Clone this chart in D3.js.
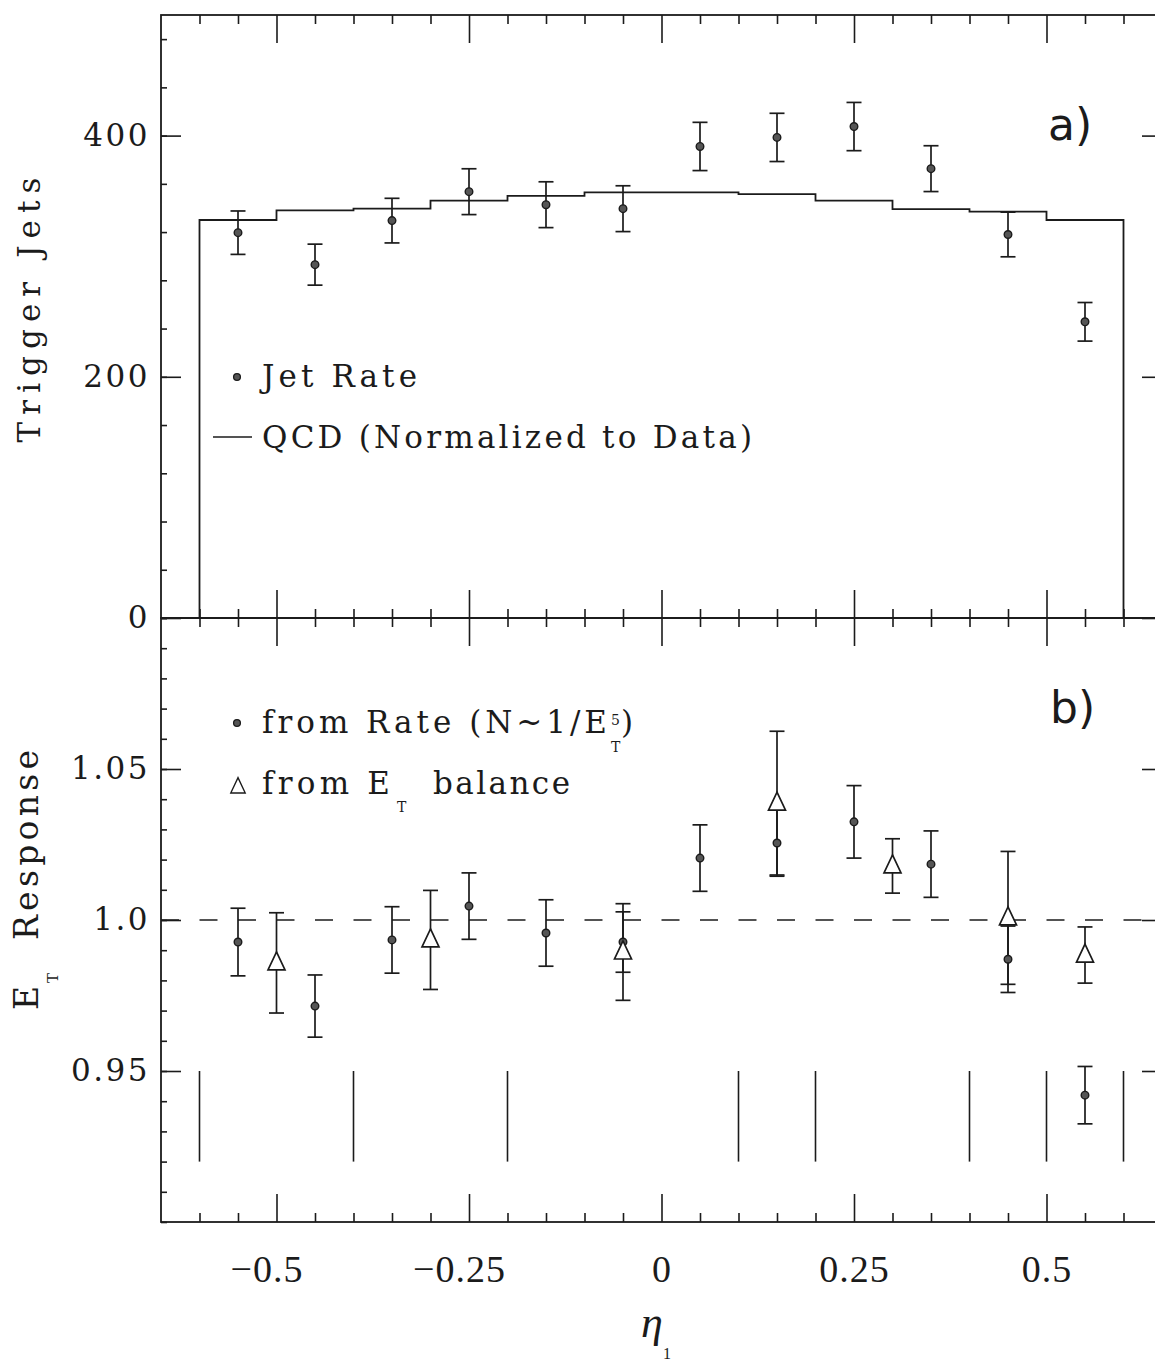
<!DOCTYPE html>
<html>
<head>
<meta charset="utf-8">
<script src="https://cdn.jsdelivr.net/npm/d3@7"></script>
<style>
  body { margin: 0; background: #fff; }
  svg { display: block; }
</style>
</head>
<body>
<div id="chart"></div>
<script>
// values
var etaCenters = [-0.55, -0.45, -0.35, -0.25, -0.15, -0.05, 0.05, 0.15, 0.25, 0.35, 0.45, 0.55];
var jetRate    = [319.5, 293, 329.5, 353.5, 342.7, 339.4, 391, 398.5, 407.5, 372.6, 318, 245.6];
var jetRateErr = [18, 17, 18.5, 19, 19, 19, 20, 20, 20, 19, 18.5, 16];

var qcdEdges  = [-0.6, -0.5, -0.4, -0.3, -0.2, -0.1, 0, 0.1, 0.2, 0.3, 0.4, 0.5, 0.6];
var qcdValues = [330, 338, 339.5, 346, 350, 353, 353, 351.5, 346, 339, 337, 330];

var rateResp = [0.9927, 0.9715, 0.9934, 1.0046, 0.9957, 0.9927, 1.0205, 1.0255, 1.0325, 1.0185, 0.987, 0.942];
var rateErr  = [0.0112, 0.0103, 0.011, 0.011, 0.011, 0.010, 0.011, 0.011, 0.012, 0.011, 0.011, 0.0095];

var balEta  = [-0.5, -0.3, -0.05, 0.15, 0.3, 0.45, 0.55];
var balResp = [0.9858, 0.9934, 0.9894, 1.0387, 1.0179, 1.0007, 0.9884];
var balErr  = [0.0166, 0.0164, 0.016, 0.0238, 0.009, 0.022, 0.0093];

var crackEta   = [-0.6, -0.4, -0.2, 0.1, 0.2, 0.4, 0.5, 0.6];
var crackRange = [0.92, 0.95];

var xMajor    = [-0.5, -0.25, 0, 0.25, 0.5];
var xLabels   = ["\u22120.5", "\u22120.25", "0", "0.25", "0.5"];
var topMajor  = [0, 200, 400];
var topLabels = ["0", "200", "400"];
var botMajor  = [0.95, 1.0, 1.05];
var botLabels = ["0.95", "1.0", "1.05"];

var width = 1155, height = 1366;
var ink = "#1b1b1b";
var slab = "'DejaVu Serif', 'Liberation Serif', serif";
var times = "'Liberation Serif', 'DejaVu Serif', serif";

var svg = d3.select("#chart")
  .append("svg")
  .attr("width", width)
  .attr("height", height);

var x = d3.scaleLinear().domain([-0.65, 0.65]).range([161, 1162]);
var yTop = d3.scaleLinear().domain([0, 500]).range([618, 15]);
var yBot = d3.scaleLinear().domain([0.9, 1.1]).range([1222, 618]);

var xMinor = d3.range(-0.6, 0.601, 0.05).filter(v => !xMajor.some(m => Math.abs(m - v) < 1e-6));
var topMinor = d3.range(0, 500, 40);
var botMinor = d3.range(0.9, 1.1001, 0.01);

function tickRow(g, axis, values, size, fmt, pad) {
  g.call(axis.tickValues(values).tickSizeInner(size).tickSizeOuter(0)
    .tickPadding(pad || 3).tickFormat(fmt || (() => "")));
  g.select(".domain").remove();
  g.selectAll(".tick line").attr("stroke", ink).attr("stroke-width", 1.6);
  g.attr("font-family", slab).attr("font-size", 31).attr("font-weight", 300);
  g.selectAll(".tick text").attr("fill", ink).attr("letter-spacing", 2.5);
  return g;
}

// frames
[[yTop, 500, 0], [yBot, 1.1, 0.9]].forEach(function (p) {
  svg.append("rect")
    .attr("x", x(-0.65))
    .attr("y", p[0](p[1]))
    .attr("width", x(0.65) - x(-0.65))
    .attr("height", p[0](p[2]) - p[0](p[1]))
    .attr("fill", "none")
    .attr("stroke", ink)
    .attr("stroke-width", 1.8);
});

// x ticks on both panels
tickRow(svg.append("g").attr("transform", "translate(0," + yTop(500) + ")"), d3.axisTop(x), xMajor, -28);
tickRow(svg.append("g").attr("transform", "translate(0," + yTop(500) + ")"), d3.axisTop(x), xMinor, -9);
tickRow(svg.append("g").attr("transform", "translate(0," + yTop(0) + ")"), d3.axisBottom(x), xMajor, -28);
tickRow(svg.append("g").attr("transform", "translate(0," + yTop(0) + ")"), d3.axisBottom(x), xMinor, -9);
tickRow(svg.append("g").attr("transform", "translate(0," + yBot(1.1) + ")"), d3.axisTop(x), xMajor, -28);
tickRow(svg.append("g").attr("transform", "translate(0," + yBot(1.1) + ")"), d3.axisTop(x), xMinor, -9);
var xAxisG = tickRow(svg.append("g").attr("transform", "translate(0," + yBot(0.9) + ")"),
  d3.axisBottom(x), xMajor, -28, (d, i) => xLabels[i], 33);
tickRow(svg.append("g").attr("transform", "translate(0," + yBot(0.9) + ")"), d3.axisBottom(x), xMinor, -9);
xAxisG.attr("font-family", times).attr("font-size", 38).attr("font-weight", null);
xAxisG.selectAll(".tick text").attr("letter-spacing", 1)
  .attr("dx", d => d < 0 ? -10 : 0);

// y ticks
tickRow(svg.append("g").attr("transform", "translate(" + x(-0.65) + ",0)"),
  d3.axisLeft(yTop), topMajor, -20, (d, i) => topLabels[i], 11);
tickRow(svg.append("g").attr("transform", "translate(" + x(-0.65) + ",0)"), d3.axisLeft(yTop), topMinor, -6);
tickRow(svg.append("g").attr("transform", "translate(" + x(0.65) + ",0)"), d3.axisRight(yTop), topMajor, -20);
tickRow(svg.append("g").attr("transform", "translate(" + x(0.65) + ",0)"), d3.axisRight(yTop), topMinor, -6);
tickRow(svg.append("g").attr("transform", "translate(" + x(-0.65) + ",0)"),
  d3.axisLeft(yBot), botMajor, -20, (d, i) => botLabels[i], 11);
tickRow(svg.append("g").attr("transform", "translate(" + x(-0.65) + ",0)"), d3.axisLeft(yBot), botMinor, -6);
tickRow(svg.append("g").attr("transform", "translate(" + x(0.65) + ",0)"), d3.axisRight(yBot), botMajor, -20);
tickRow(svg.append("g").attr("transform", "translate(" + x(0.65) + ",0)"), d3.axisRight(yBot), botMinor, -6);

// axis titles
svg.append("text")
  .attr("transform", "translate(40,310) rotate(-90)")
  .attr("text-anchor", "middle")
  .attr("font-family", slab).attr("font-size", 31).attr("fill", ink)
  .attr("textLength", 265).attr("lengthAdjust", "spacing")
  .text("Trigger Jets");

var yt = svg.append("text")
  .attr("transform", "translate(38,1010) rotate(-90)")
  .attr("font-family", slab).attr("font-size", 33).attr("fill", ink);
yt.append("tspan").attr("x", 0).attr("y", 0).text("E");
yt.append("tspan").attr("x", 27).attr("y", 20).attr("font-size", 15).text("T");
yt.append("tspan").attr("x", 70).attr("y", 0)
  .attr("textLength", 190).attr("lengthAdjust", "spacing").text("Response");

var xt = svg.append("text")
  .attr("font-family", times)
  .attr("fill", ink);
xt.append("tspan").attr("x", 641).attr("y", 1337).attr("font-size", 44).attr("font-style", "italic").text("\u03b7");
xt.append("tspan").attr("x", 663).attr("y", 1359).attr("font-size", 16).text("1");

// ---- panel a ----
var hist = d3.line()
  .x(d => x(d[0]))
  .y(d => yTop(d[1]))
  .curve(d3.curveStepAfter);
var histPts = [[qcdEdges[0], 0]]
  .concat(qcdValues.map((v, i) => [qcdEdges[i], v]))
  .concat([[qcdEdges[qcdEdges.length - 1], qcdValues[qcdValues.length - 1]],
           [qcdEdges[qcdEdges.length - 1], 0]]);
svg.append("path")
  .attr("d", hist(histPts))
  .attr("fill", "none")
  .attr("stroke", ink)
  .attr("stroke-width", 1.8);

function errorBars(g, xs, vs, es, yScale) {
  g.selectAll(null).data(vs).enter().append("g")
    .each(function (v, i) {
      var cx = x(xs[i]), y0 = yScale(v - es[i]), y1 = yScale(v + es[i]);
      var s = d3.select(this);
      s.append("line").attr("x1", cx).attr("x2", cx).attr("y1", y0).attr("y2", y1);
      s.append("line").attr("x1", cx - 7.5).attr("x2", cx + 7.5).attr("y1", y0).attr("y2", y0);
      s.append("line").attr("x1", cx - 7.5).attr("x2", cx + 7.5).attr("y1", y1).attr("y2", y1);
    })
    .attr("stroke", ink).attr("stroke-width", 1.7);
}

function rateMarks(g, xs, vs, yScale) {
  g.selectAll(null).data(vs).enter().append("circle")
    .attr("cx", (d, i) => x(xs[i]))
    .attr("cy", d => yScale(d))
    .attr("r", 3.8)
    .attr("fill", "#555")
    .attr("stroke", ink)
    .attr("stroke-width", 1.4);
}

var tri = "M0,-11L8.5,7L-8.5,7Z";

var pa = svg.append("g");
errorBars(pa, etaCenters, jetRate, jetRateErr, yTop);
rateMarks(pa, etaCenters, jetRate, yTop);

// legend a
svg.append("circle").attr("cx", 237).attr("cy", 377).attr("r", 3.4)
  .attr("fill", "#555").attr("stroke", ink).attr("stroke-width", 1.3);
svg.append("text").attr("x", 262).attr("y", 387)
  .attr("font-family", slab).attr("font-size", 31).attr("fill", ink)
  .attr("textLength", 155).attr("lengthAdjust", "spacing")
  .text("Jet Rate");
svg.append("line").attr("x1", 213).attr("x2", 252).attr("y1", 437).attr("y2", 437)
  .attr("stroke", ink).attr("stroke-width", 1.6);
svg.append("text").attr("x", 262).attr("y", 448)
  .attr("font-family", slab).attr("font-size", 31).attr("fill", ink)
  .attr("textLength", 490).attr("lengthAdjust", "spacing")
  .text("QCD (Normalized to Data)");

svg.append("text").attr("x", 1048).attr("y", 140)
  .attr("font-family", "'DejaVu Sans', sans-serif").attr("font-size", 44).attr("fill", ink)
  .text("a)");

// ---- panel b ----
var pb = svg.append("g");
pb.append("line")
  .attr("x1", x(-0.65)).attr("x2", x(0.65))
  .attr("y1", yBot(1.0)).attr("y2", yBot(1.0))
  .attr("stroke", ink).attr("stroke-width", 1.4)
  .attr("stroke-dasharray", "18,20.5");

pb.selectAll(".crack").data(crackEta).enter().append("line")
  .attr("class", "crack")
  .attr("x1", d => x(d)).attr("x2", d => x(d))
  .attr("y1", yBot(crackRange[0])).attr("y2", yBot(crackRange[1]))
  .attr("stroke", ink).attr("stroke-width", 1.6);

errorBars(pb, etaCenters, rateResp, rateErr, yBot);
errorBars(pb, balEta, balResp, balErr, yBot);
rateMarks(pb, etaCenters, rateResp, yBot);
pb.selectAll(".tri").data(balResp).enter().append("path")
  .attr("class", "tri")
  .attr("d", tri)
  .attr("transform", (d, i) => "translate(" + x(balEta[i]) + "," + yBot(d) + ")")
  .attr("fill", "#fff")
  .attr("stroke", ink)
  .attr("stroke-width", 1.7);

// legend b
svg.append("circle").attr("cx", 237).attr("cy", 723).attr("r", 3.4)
  .attr("fill", "#555").attr("stroke", ink).attr("stroke-width", 1.3);
var l1 = svg.append("text").attr("font-family", slab).attr("font-size", 31).attr("fill", ink);
l1.append("tspan").attr("x", 262).attr("y", 733)
  .attr("textLength", 345).attr("lengthAdjust", "spacing").text("from Rate (N~1/E");
l1.append("tspan").attr("x", 611).attr("y", 725).attr("font-size", 14).text("5");
l1.append("tspan").attr("x", 611).attr("y", 752).attr("font-size", 14).text("T");
l1.append("tspan").attr("x", 621).attr("y", 733).text(")");

svg.append("path").attr("d", tri).attr("transform", "translate(238,787) scale(0.85)")
  .attr("fill", "#fff").attr("stroke", ink).attr("stroke-width", 1.6);
var l2 = svg.append("text").attr("font-family", slab).attr("font-size", 31).attr("fill", ink);
l2.append("tspan").attr("x", 262).attr("y", 794)
  .attr("textLength", 128).attr("lengthAdjust", "spacing").text("from E");
l2.append("tspan").attr("x", 397).attr("y", 812).attr("font-size", 14).text("T");
l2.append("tspan").attr("x", 433).attr("y", 794)
  .attr("textLength", 137).attr("lengthAdjust", "spacing").text("balance");

svg.append("text").attr("x", 1050).attr("y", 723)
  .attr("font-family", "'DejaVu Sans', sans-serif").attr("font-size", 44).attr("fill", ink)
  .text("b)");
</script>
</body>
</html>
